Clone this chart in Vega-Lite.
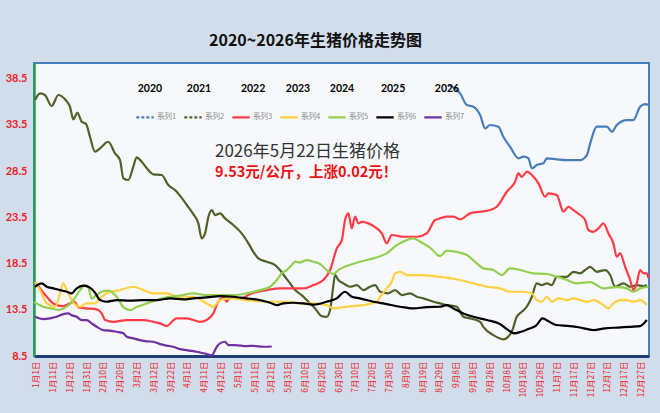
{
  "$schema": "https://vega.github.io/schema/vega-lite/v6.json",
  "width": 615,
  "height": 293,
  "autosize": "none",
  "padding": {"left": 34, "top": 63, "right": 11, "bottom": 57},
  "background": "#d1ddeb",
  "title": {
    "text": "2020~2026年生猪价格走势图",
    "font": "Noto Sans CJK SC",
    "fontSize": 16,
    "fontWeight": "bold",
    "color": "#111111",
    "anchor": "middle",
    "dx": -26,
    "offset": 14
  },
  "config": {
    "view": {"stroke": "#4a7ebb", "strokeWidth": 2, "fill": "#f6f8fc"}
  },
  "encoding": {
    "x": {
      "field": "d",
      "type": "quantitative",
      "title": null,
      "scale": {"domain": [0, 366], "nice": false, "zero": false},
      "axis": {
        "values": [1, 11, 21, 31, 41, 51, 61, 71, 81, 91, 101, 111, 121, 131, 141, 151, 161, 171, 181, 191, 201, 211, 221, 231, 241, 251, 261, 271, 281, 291, 301, 311, 321, 331, 341, 351, 361],
        "labelExpr": "timeFormat(datetime(2021, 0, datum.value), '%-m月%-d日')",
        "labelAngle": -90,
        "labelColor": "#ee1c25",
        "labelFont": "Noto Sans CJK SC",
        "labelFontSize": 8.5,
        "labelPadding": 5,
        "labelOverlap": false,
        "labelSeparation": -20,
        "labelBound": false,
        "labelFlush": false,
        "ticks": false,
        "grid": false,
        "domainColor": "#1f3d7a",
        "domainWidth": 3
      }
    },
    "y": {
      "field": "v",
      "type": "quantitative",
      "title": null,
      "scale": {"domain": [8.5, 40.2], "nice": false, "zero": false},
      "axis": {
        "values": [8.5, 13.5, 18.5, 23.5, 28.5, 33.5, 38.5],
        "format": ".1f",
        "labelColor": "#ee1c25",
        "labelFont": "Lato",
        "labelFontWeight": "bold",
        "labelFontSize": 11,
        "labelPadding": 7,
        "labelFlush": false,
        "ticks": false,
        "grid": false,
        "domainColor": "#22a050",
        "domainWidth": 2.5
      }
    }
  },
  "layer": [
    {
      "data": {
        "values": [
          {"s": "系列1", "d": 246.4, "v": 37.82}, {"s": "系列1", "d": 253.6, "v": 36.92}, {"s": "系列1", "d": 257.6, "v": 35.65},
          {"s": "系列1", "d": 261.5, "v": 35.47}, {"s": "系列1", "d": 265.5, "v": 34.57}, {"s": "系列1", "d": 268.5, "v": 33.13},
          {"s": "系列1", "d": 271.4, "v": 33.49}, {"s": "系列1", "d": 276.4, "v": 33.31}, {"s": "系列1", "d": 279.3, "v": 32.22},
          {"s": "系列1", "d": 283.3, "v": 31.14}, {"s": "系列1", "d": 288.3, "v": 29.89}, {"s": "系列1", "d": 291.3, "v": 30.06},
          {"s": "系列1", "d": 294.2, "v": 29.89}, {"s": "系列1", "d": 296.3, "v": 28.8}, {"s": "系列1", "d": 299.2, "v": 29.16},
          {"s": "系列1", "d": 303.2, "v": 29.35}, {"s": "系列1", "d": 305.2, "v": 29.89}, {"s": "系列1", "d": 311.1, "v": 29.78},
          {"s": "系列1", "d": 317.1, "v": 29.7}, {"s": "系列1", "d": 325.0, "v": 29.7}, {"s": "系列1", "d": 329.0, "v": 30.24},
          {"s": "系列1", "d": 331.0, "v": 31.51}, {"s": "系列1", "d": 334.9, "v": 33.31}, {"s": "系列1", "d": 340.9, "v": 33.31},
          {"s": "系列1", "d": 343.9, "v": 32.76}, {"s": "系列1", "d": 346.8, "v": 33.49}, {"s": "系列1", "d": 352.8, "v": 34.03},
          {"s": "系列1", "d": 356.7, "v": 34.03}, {"s": "系列1", "d": 360.7, "v": 35.47}, {"s": "系列1", "d": 363.7, "v": 35.76},
          {"s": "系列1", "d": 365.7, "v": 35.65},

          {"s": "系列2", "d": 0.6, "v": 36.2}, {"s": "系列2", "d": 3.6, "v": 36.92}, {"s": "系列2", "d": 6.5, "v": 36.74},
          {"s": "系列2", "d": 10.5, "v": 35.55}, {"s": "系列2", "d": 14.5, "v": 36.74}, {"s": "系列2", "d": 18.5, "v": 36.27},
          {"s": "系列2", "d": 21.4, "v": 35.47}, {"s": "系列2", "d": 23.4, "v": 34.11}, {"s": "系列2", "d": 25.8, "v": 34.82},
          {"s": "系列2", "d": 28.4, "v": 33.85}, {"s": "系列2", "d": 31.0, "v": 33.6}, {"s": "系列2", "d": 33.3, "v": 32.22},
          {"s": "系列2", "d": 36.3, "v": 30.6}, {"s": "系列2", "d": 39.3, "v": 30.97}, {"s": "系列2", "d": 44.2, "v": 31.68},
          {"s": "系列2", "d": 48.2, "v": 30.43}, {"s": "系列2", "d": 51.2, "v": 29.7}, {"s": "系列2", "d": 53.2, "v": 27.72},
          {"s": "系列2", "d": 56.1, "v": 27.54}, {"s": "系列2", "d": 59.1, "v": 28.98}, {"s": "系列2", "d": 61.1, "v": 30.0},
          {"s": "系列2", "d": 64.1, "v": 29.52}, {"s": "系列2", "d": 68.0, "v": 28.62}, {"s": "系列2", "d": 71.0, "v": 28.15},
          {"s": "系列2", "d": 76.0, "v": 28.08}, {"s": "系列2", "d": 79.9, "v": 27.0}, {"s": "系列2", "d": 83.9, "v": 26.46},
          {"s": "系列2", "d": 87.9, "v": 25.6}, {"s": "系列2", "d": 90.9, "v": 24.85}, {"s": "系列2", "d": 94.8, "v": 23.85},
          {"s": "系列2", "d": 97.8, "v": 22.85}, {"s": "系列2", "d": 99.8, "v": 21.23}, {"s": "系列2", "d": 101.8, "v": 21.77},
          {"s": "系列2", "d": 103.8, "v": 23.57}, {"s": "系列2", "d": 105.8, "v": 24.29}, {"s": "系列2", "d": 107.7, "v": 23.75},
          {"s": "系列2", "d": 110.7, "v": 23.93}, {"s": "系列2", "d": 113.7, "v": 23.39}, {"s": "系列2", "d": 118.6, "v": 22.67},
          {"s": "系列2", "d": 123.6, "v": 21.77}, {"s": "系列2", "d": 127.6, "v": 20.69}, {"s": "系列2", "d": 130.5, "v": 19.78},
          {"s": "系列2", "d": 133.5, "v": 19.06}, {"s": "系列2", "d": 138.5, "v": 18.7}, {"s": "系列2", "d": 143.5, "v": 18.34},
          {"s": "系列2", "d": 146.4, "v": 17.8}, {"s": "系列2", "d": 149.4, "v": 17.07}, {"s": "系列2", "d": 152.4, "v": 16.36},
          {"s": "系列2", "d": 155.4, "v": 15.63}, {"s": "系列2", "d": 159.3, "v": 15.09}, {"s": "系列2", "d": 163.3, "v": 14.37},
          {"s": "系列2", "d": 167.3, "v": 13.65}, {"s": "系列2", "d": 171.2, "v": 12.82}, {"s": "系列2", "d": 174.2, "v": 12.74},
          {"s": "系列2", "d": 176.2, "v": 13.47}, {"s": "系列2", "d": 177.8, "v": 15.63}, {"s": "系列2", "d": 179.2, "v": 17.26},
          {"s": "系列2", "d": 181.1, "v": 16.72}, {"s": "系列2", "d": 184.1, "v": 16.36}, {"s": "系列2", "d": 188.1, "v": 15.99},
          {"s": "系列2", "d": 192.1, "v": 16.17}, {"s": "系列2", "d": 196.0, "v": 15.63}, {"s": "系列2", "d": 200.0, "v": 15.99},
          {"s": "系列2", "d": 203.0, "v": 16.17}, {"s": "系列2", "d": 206.0, "v": 15.45}, {"s": "系列2", "d": 210.9, "v": 15.28},
          {"s": "系列2", "d": 214.9, "v": 15.63}, {"s": "系列2", "d": 218.9, "v": 15.09}, {"s": "系列2", "d": 223.8, "v": 15.28},
          {"s": "系列2", "d": 227.8, "v": 14.91}, {"s": "系列2", "d": 231.7, "v": 14.74}, {"s": "系列2", "d": 237.7, "v": 14.37},
          {"s": "系列2", "d": 241.7, "v": 14.19}, {"s": "系列2", "d": 245.7, "v": 14.01}, {"s": "系列2", "d": 251.6, "v": 13.83},
          {"s": "系列2", "d": 255.5, "v": 12.74}, {"s": "系列2", "d": 259.5, "v": 12.57}, {"s": "系列2", "d": 265.5, "v": 12.2},
          {"s": "系列2", "d": 267.4, "v": 11.66}, {"s": "系列2", "d": 273.4, "v": 10.76}, {"s": "系列2", "d": 279.3, "v": 10.3},
          {"s": "系列2", "d": 284.3, "v": 11.12}, {"s": "系列2", "d": 287.3, "v": 12.74}, {"s": "系列2", "d": 290.3, "v": 13.28},
          {"s": "系列2", "d": 293.3, "v": 13.83}, {"s": "系列2", "d": 296.3, "v": 14.91}, {"s": "系列2", "d": 299.2, "v": 16.36},
          {"s": "系列2", "d": 302.2, "v": 16.17}, {"s": "系列2", "d": 305.2, "v": 16.36}, {"s": "系列2", "d": 308.2, "v": 16.17},
          {"s": "系列2", "d": 311.1, "v": 17.07}, {"s": "系列2", "d": 317.1, "v": 17.07}, {"s": "系列2", "d": 321.0, "v": 17.61},
          {"s": "系列2", "d": 325.0, "v": 17.44}, {"s": "系列2", "d": 328.0, "v": 17.8}, {"s": "系列2", "d": 331.0, "v": 18.15},
          {"s": "系列2", "d": 334.9, "v": 17.61}, {"s": "系列2", "d": 339.9, "v": 17.8}, {"s": "系列2", "d": 342.9, "v": 17.26},
          {"s": "系列2", "d": 345.8, "v": 15.99}, {"s": "系列2", "d": 350.8, "v": 16.36}, {"s": "系列2", "d": 354.8, "v": 15.99},
          {"s": "系列2", "d": 358.7, "v": 16.17}, {"s": "系列2", "d": 362.7, "v": 16.07}, {"s": "系列2", "d": 364.7, "v": 16.17},

          {"s": "系列3", "d": 0.6, "v": 16.53}, {"s": "系列3", "d": 3.6, "v": 15.82}, {"s": "系列3", "d": 7.6, "v": 14.91},
          {"s": "系列3", "d": 11.5, "v": 14.19}, {"s": "系列3", "d": 17.4, "v": 13.9}, {"s": "系列3", "d": 21.4, "v": 14.19},
          {"s": "系列3", "d": 24.4, "v": 14.37}, {"s": "系列3", "d": 26.4, "v": 13.76}, {"s": "系列3", "d": 31.4, "v": 13.65},
          {"s": "系列3", "d": 37.3, "v": 13.54}, {"s": "系列3", "d": 40.3, "v": 13.11}, {"s": "系列3", "d": 42.3, "v": 12.39},
          {"s": "系列3", "d": 47.2, "v": 12.2}, {"s": "系列3", "d": 55.2, "v": 12.39}, {"s": "系列3", "d": 65.1, "v": 12.39},
          {"s": "系列3", "d": 71.0, "v": 12.2}, {"s": "系列3", "d": 75.0, "v": 12.03}, {"s": "系列3", "d": 79.0, "v": 11.74},
          {"s": "系列3", "d": 82.0, "v": 12.2}, {"s": "系列3", "d": 84.9, "v": 12.57}, {"s": "系列3", "d": 90.9, "v": 12.57},
          {"s": "系列3", "d": 98.8, "v": 12.2}, {"s": "系列3", "d": 102.8, "v": 12.39}, {"s": "系列3", "d": 106.7, "v": 13.11},
          {"s": "系列3", "d": 109.7, "v": 14.37}, {"s": "系列3", "d": 112.7, "v": 14.91}, {"s": "系列3", "d": 114.7, "v": 14.37},
          {"s": "系列3", "d": 116.7, "v": 14.91}, {"s": "系列3", "d": 122.6, "v": 14.73}, {"s": "系列3", "d": 129.6, "v": 15.28},
          {"s": "系列3", "d": 138.5, "v": 15.63}, {"s": "系列3", "d": 146.4, "v": 15.82}, {"s": "系列3", "d": 154.3, "v": 15.82},
          {"s": "系列3", "d": 160.3, "v": 15.82}, {"s": "系列3", "d": 166.3, "v": 16.17}, {"s": "系列3", "d": 172.2, "v": 16.72},
          {"s": "系列3", "d": 176.2, "v": 17.8}, {"s": "系列3", "d": 180.2, "v": 20.15}, {"s": "系列3", "d": 183.2, "v": 21.04},
          {"s": "系列3", "d": 185.1, "v": 23.21}, {"s": "系列3", "d": 187.1, "v": 23.93}, {"s": "系列3", "d": 189.1, "v": 22.31},
          {"s": "系列3", "d": 191.1, "v": 23.57}, {"s": "系列3", "d": 193.0, "v": 22.85}, {"s": "系列3", "d": 195.1, "v": 23.02},
          {"s": "系列3", "d": 199.0, "v": 22.85}, {"s": "系列3", "d": 204.0, "v": 22.31}, {"s": "系列3", "d": 207.0, "v": 21.77},
          {"s": "系列3", "d": 209.9, "v": 20.69}, {"s": "系列3", "d": 212.9, "v": 21.59}, {"s": "系列3", "d": 219.8, "v": 21.4},
          {"s": "系列3", "d": 227.8, "v": 21.4}, {"s": "系列3", "d": 233.7, "v": 21.77}, {"s": "系列3", "d": 238.7, "v": 23.21},
          {"s": "系列3", "d": 241.7, "v": 23.39}, {"s": "系列3", "d": 245.7, "v": 23.57}, {"s": "系列3", "d": 249.6, "v": 23.57},
          {"s": "系列3", "d": 253.6, "v": 23.28}, {"s": "系列3", "d": 259.5, "v": 23.93}, {"s": "系列3", "d": 265.5, "v": 24.11},
          {"s": "系列3", "d": 271.4, "v": 24.29}, {"s": "系列3", "d": 275.4, "v": 24.65}, {"s": "系列3", "d": 281.4, "v": 26.27},
          {"s": "系列3", "d": 286.3, "v": 27.35}, {"s": "系列3", "d": 288.3, "v": 28.26}, {"s": "系列3", "d": 290.3, "v": 27.89},
          {"s": "系列3", "d": 293.3, "v": 28.44}, {"s": "系列3", "d": 296.3, "v": 28.08}, {"s": "系列3", "d": 300.2, "v": 27.18},
          {"s": "系列3", "d": 304.2, "v": 25.73}, {"s": "系列3", "d": 306.1, "v": 26.1}, {"s": "系列3", "d": 311.1, "v": 25.91},
          {"s": "系列3", "d": 315.1, "v": 24.11}, {"s": "系列3", "d": 318.0, "v": 24.65}, {"s": "系列3", "d": 321.0, "v": 24.29},
          {"s": "系列3", "d": 325.0, "v": 23.75}, {"s": "系列3", "d": 328.0, "v": 23.21}, {"s": "系列3", "d": 329.9, "v": 22.13},
          {"s": "系列3", "d": 332.9, "v": 21.94}, {"s": "系列3", "d": 335.9, "v": 22.31}, {"s": "系列3", "d": 338.9, "v": 22.85},
          {"s": "系列3", "d": 341.8, "v": 21.77}, {"s": "系列3", "d": 344.8, "v": 20.69}, {"s": "系列3", "d": 346.8, "v": 19.24},
          {"s": "系列3", "d": 348.8, "v": 19.6}, {"s": "系列3", "d": 351.8, "v": 18.15}, {"s": "系列3", "d": 354.8, "v": 16.72},
          {"s": "系列3", "d": 356.7, "v": 15.63}, {"s": "系列3", "d": 358.7, "v": 16.36}, {"s": "系列3", "d": 360.7, "v": 17.8},
          {"s": "系列3", "d": 362.7, "v": 17.44}, {"s": "系列3", "d": 364.7, "v": 17.44}, {"s": "系列3", "d": 365.7, "v": 16.9},

          {"s": "系列4", "d": 0.6, "v": 16.53}, {"s": "系列4", "d": 3.6, "v": 15.63}, {"s": "系列4", "d": 7.6, "v": 14.19},
          {"s": "系列4", "d": 12.5, "v": 13.83}, {"s": "系列4", "d": 15.5, "v": 15.28}, {"s": "系列4", "d": 17.4, "v": 16.36},
          {"s": "系列4", "d": 19.5, "v": 15.63}, {"s": "系列4", "d": 22.4, "v": 14.55}, {"s": "系列4", "d": 27.4, "v": 13.83},
          {"s": "系列4", "d": 31.4, "v": 14.19}, {"s": "系列4", "d": 36.3, "v": 14.19}, {"s": "系列4", "d": 39.3, "v": 14.73},
          {"s": "系列4", "d": 43.3, "v": 15.28}, {"s": "系列4", "d": 51.2, "v": 15.63}, {"s": "系列4", "d": 59.1, "v": 15.99},
          {"s": "系列4", "d": 65.1, "v": 15.63}, {"s": "系列4", "d": 71.0, "v": 15.28}, {"s": "系列4", "d": 79.0, "v": 15.28},
          {"s": "系列4", "d": 86.9, "v": 14.8}, {"s": "系列4", "d": 94.8, "v": 14.91}, {"s": "系列4", "d": 102.8, "v": 14.19},
          {"s": "系列4", "d": 106.7, "v": 13.83}, {"s": "系列4", "d": 110.7, "v": 14.55}, {"s": "系列4", "d": 116.7, "v": 14.73},
          {"s": "系列4", "d": 126.6, "v": 14.55}, {"s": "系列4", "d": 136.5, "v": 14.37}, {"s": "系列4", "d": 150.4, "v": 14.37},
          {"s": "系列4", "d": 158.3, "v": 14.19}, {"s": "系列4", "d": 166.3, "v": 14.19}, {"s": "系列4", "d": 174.2, "v": 14.01},
          {"s": "系列4", "d": 178.2, "v": 13.65}, {"s": "系列4", "d": 186.1, "v": 13.83}, {"s": "系列4", "d": 196.0, "v": 14.01},
          {"s": "系列4", "d": 204.0, "v": 14.37}, {"s": "系列4", "d": 206.0, "v": 14.91}, {"s": "系列4", "d": 209.9, "v": 15.82},
          {"s": "系列4", "d": 212.9, "v": 16.53}, {"s": "系列4", "d": 214.9, "v": 17.44}, {"s": "系列4", "d": 217.9, "v": 17.61},
          {"s": "系列4", "d": 221.8, "v": 17.26}, {"s": "系列4", "d": 229.8, "v": 17.26}, {"s": "系列4", "d": 241.7, "v": 17.07},
          {"s": "系列4", "d": 253.6, "v": 16.72}, {"s": "系列4", "d": 261.5, "v": 16.36}, {"s": "系列4", "d": 269.5, "v": 15.99},
          {"s": "系列4", "d": 277.4, "v": 15.82}, {"s": "系列4", "d": 283.3, "v": 15.45}, {"s": "系列4", "d": 291.3, "v": 15.45},
          {"s": "系列4", "d": 296.3, "v": 15.28}, {"s": "系列4", "d": 299.2, "v": 14.55}, {"s": "系列4", "d": 302.2, "v": 14.37},
          {"s": "系列4", "d": 305.2, "v": 14.91}, {"s": "系列4", "d": 308.2, "v": 14.37}, {"s": "系列4", "d": 312.1, "v": 14.73},
          {"s": "系列4", "d": 317.1, "v": 14.55}, {"s": "系列4", "d": 321.0, "v": 14.73}, {"s": "系列4", "d": 325.0, "v": 14.55},
          {"s": "系列4", "d": 329.0, "v": 14.37}, {"s": "系列4", "d": 332.9, "v": 14.55}, {"s": "系列4", "d": 338.9, "v": 14.01},
          {"s": "系列4", "d": 341.8, "v": 13.65}, {"s": "系列4", "d": 344.8, "v": 14.19}, {"s": "系列4", "d": 348.8, "v": 14.55},
          {"s": "系列4", "d": 352.8, "v": 14.55}, {"s": "系列4", "d": 356.7, "v": 14.37}, {"s": "系列4", "d": 360.7, "v": 14.55},
          {"s": "系列4", "d": 364.7, "v": 14.01},

          {"s": "系列5", "d": 0, "v": 14.33}, {"s": "系列5", "d": 5.5, "v": 13.83}, {"s": "系列5", "d": 11.5, "v": 13.6},
          {"s": "系列5", "d": 14.5, "v": 13.5}, {"s": "系列5", "d": 19.5, "v": 13.83}, {"s": "系列5", "d": 23.4, "v": 14.55},
          {"s": "系列5", "d": 27.4, "v": 15.63}, {"s": "系列5", "d": 30.4, "v": 16.17}, {"s": "系列5", "d": 32.3, "v": 15.95},
          {"s": "系列5", "d": 34.3, "v": 14.73}, {"s": "系列5", "d": 37.3, "v": 15.09}, {"s": "系列5", "d": 41.3, "v": 15.52},
          {"s": "系列5", "d": 44.2, "v": 15.57}, {"s": "系列5", "d": 49.2, "v": 14.91}, {"s": "系列5", "d": 53.2, "v": 13.79},
          {"s": "系列5", "d": 57.1, "v": 13.47}, {"s": "系列5", "d": 61.1, "v": 13.79}, {"s": "系列5", "d": 67.1, "v": 14.19},
          {"s": "系列5", "d": 73.0, "v": 14.55}, {"s": "系列5", "d": 79.0, "v": 14.84}, {"s": "系列5", "d": 86.9, "v": 15.03},
          {"s": "系列5", "d": 94.8, "v": 15.28}, {"s": "系列5", "d": 102.8, "v": 15.09}, {"s": "系列5", "d": 110.7, "v": 15.09},
          {"s": "系列5", "d": 118.6, "v": 15.09}, {"s": "系列5", "d": 126.6, "v": 15.28}, {"s": "系列5", "d": 134.5, "v": 15.63},
          {"s": "系列5", "d": 140.5, "v": 15.99}, {"s": "系列5", "d": 144.5, "v": 16.72}, {"s": "系列5", "d": 147.4, "v": 17.44},
          {"s": "系列5", "d": 150.4, "v": 17.8}, {"s": "系列5", "d": 153.4, "v": 18.34}, {"s": "系列5", "d": 155.4, "v": 18.7},
          {"s": "系列5", "d": 158.3, "v": 18.61}, {"s": "系列5", "d": 162.3, "v": 18.88}, {"s": "系列5", "d": 166.3, "v": 18.7},
          {"s": "系列5", "d": 170.2, "v": 18.45}, {"s": "系列5", "d": 174.2, "v": 17.8}, {"s": "系列5", "d": 178.2, "v": 17.37},
          {"s": "系列5", "d": 181.1, "v": 17.8}, {"s": "系列5", "d": 186.1, "v": 18.23}, {"s": "系列5", "d": 194.0, "v": 18.7},
          {"s": "系列5", "d": 202.0, "v": 19.06}, {"s": "系列5", "d": 209.9, "v": 19.6}, {"s": "系列5", "d": 215.9, "v": 20.5},
          {"s": "系列5", "d": 221.8, "v": 21.04}, {"s": "系列5", "d": 225.8, "v": 21.23}, {"s": "系列5", "d": 229.8, "v": 20.86},
          {"s": "系列5", "d": 235.7, "v": 20.23}, {"s": "系列5", "d": 241.7, "v": 19.31}, {"s": "系列5", "d": 245.7, "v": 19.91},
          {"s": "系列5", "d": 251.6, "v": 19.75}, {"s": "系列5", "d": 257.6, "v": 19.42}, {"s": "系列5", "d": 263.5, "v": 18.52},
          {"s": "系列5", "d": 267.4, "v": 17.98}, {"s": "系列5", "d": 273.4, "v": 17.8}, {"s": "系列5", "d": 278.4, "v": 17.26},
          {"s": "系列5", "d": 283.3, "v": 17.98}, {"s": "系列5", "d": 289.3, "v": 17.8}, {"s": "系列5", "d": 297.2, "v": 17.44},
          {"s": "系列5", "d": 305.2, "v": 17.37}, {"s": "系列5", "d": 311.1, "v": 17.07}, {"s": "系列5", "d": 317.1, "v": 16.72},
          {"s": "系列5", "d": 323.0, "v": 16.36}, {"s": "系列5", "d": 331.0, "v": 16.5}, {"s": "系列5", "d": 338.9, "v": 15.82},
          {"s": "系列5", "d": 346.8, "v": 15.96}, {"s": "系列5", "d": 352.8, "v": 15.82}, {"s": "系列5", "d": 356.7, "v": 15.45},
          {"s": "系列5", "d": 360.7, "v": 15.82}, {"s": "系列5", "d": 365.7, "v": 15.99},

          {"s": "系列6", "d": 0.6, "v": 15.99}, {"s": "系列6", "d": 4.6, "v": 16.36}, {"s": "系列6", "d": 7.6, "v": 15.99},
          {"s": "系列6", "d": 11.5, "v": 15.82}, {"s": "系列6", "d": 15.5, "v": 15.63}, {"s": "系列6", "d": 19.5, "v": 15.45},
          {"s": "系列6", "d": 22.4, "v": 15.28}, {"s": "系列6", "d": 25.4, "v": 15.82}, {"s": "系列6", "d": 29.3, "v": 16.12},
          {"s": "系列6", "d": 33.3, "v": 15.9}, {"s": "系列6", "d": 36.3, "v": 15.36}, {"s": "系列6", "d": 39.3, "v": 14.55},
          {"s": "系列6", "d": 43.3, "v": 14.37}, {"s": "系列6", "d": 49.2, "v": 14.55}, {"s": "系列6", "d": 57.1, "v": 14.5},
          {"s": "系列6", "d": 65.1, "v": 14.55}, {"s": "系列6", "d": 73.0, "v": 14.55}, {"s": "系列6", "d": 81.0, "v": 14.73},
          {"s": "系列6", "d": 88.9, "v": 14.63}, {"s": "系列6", "d": 94.8, "v": 14.73}, {"s": "系列6", "d": 102.8, "v": 14.84},
          {"s": "系列6", "d": 110.7, "v": 14.98}, {"s": "系列6", "d": 118.6, "v": 14.91}, {"s": "系列6", "d": 126.6, "v": 14.73},
          {"s": "系列6", "d": 134.5, "v": 14.55}, {"s": "系列6", "d": 140.5, "v": 14.26}, {"s": "系列6", "d": 144.5, "v": 14.01},
          {"s": "系列6", "d": 148.4, "v": 14.19}, {"s": "系列6", "d": 154.3, "v": 14.26}, {"s": "系列6", "d": 160.3, "v": 14.19},
          {"s": "系列6", "d": 166.3, "v": 14.06}, {"s": "系列6", "d": 174.2, "v": 14.37}, {"s": "系列6", "d": 180.2, "v": 14.73},
          {"s": "系列6", "d": 185.1, "v": 15.45}, {"s": "系列6", "d": 189.1, "v": 14.91}, {"s": "系列6", "d": 194.0, "v": 14.73},
          {"s": "系列6", "d": 202.0, "v": 14.37}, {"s": "系列6", "d": 209.9, "v": 14.12}, {"s": "系列6", "d": 217.9, "v": 13.83},
          {"s": "系列6", "d": 225.8, "v": 13.65}, {"s": "系列6", "d": 233.7, "v": 13.79}, {"s": "系列6", "d": 241.7, "v": 13.83},
          {"s": "系列6", "d": 245.7, "v": 14.01}, {"s": "系列6", "d": 249.6, "v": 13.65}, {"s": "系列6", "d": 255.5, "v": 13.11},
          {"s": "系列6", "d": 261.5, "v": 12.74}, {"s": "系列6", "d": 269.5, "v": 12.39}, {"s": "系列6", "d": 277.4, "v": 11.95},
          {"s": "系列6", "d": 282.3, "v": 11.3}, {"s": "系列6", "d": 285.7, "v": 10.95}, {"s": "系列6", "d": 289.3, "v": 11.09},
          {"s": "系列6", "d": 294.0, "v": 11.41}, {"s": "系列6", "d": 298.8, "v": 11.79}, {"s": "系列6", "d": 302.7, "v": 12.57},
          {"s": "系列6", "d": 306.0, "v": 12.28}, {"s": "系列6", "d": 310.7, "v": 11.85}, {"s": "系列6", "d": 319.0, "v": 11.74},
          {"s": "系列6", "d": 325.0, "v": 11.58}, {"s": "系列6", "d": 332.9, "v": 11.3}, {"s": "系列6", "d": 339.9, "v": 11.49},
          {"s": "系列6", "d": 347.6, "v": 11.58}, {"s": "系列6", "d": 354.8, "v": 11.66}, {"s": "系列6", "d": 360.7, "v": 11.74},
          {"s": "系列6", "d": 364.7, "v": 12.39},

          {"s": "系列7", "d": 0.6, "v": 12.74}, {"s": "系列7", "d": 5.5, "v": 12.49}, {"s": "系列7", "d": 9.5, "v": 12.57},
          {"s": "系列7", "d": 13.5, "v": 12.74}, {"s": "系列7", "d": 17.4, "v": 13.03}, {"s": "系列7", "d": 20.4, "v": 13.11},
          {"s": "系列7", "d": 22.4, "v": 12.92}, {"s": "系列7", "d": 25.4, "v": 12.74}, {"s": "系列7", "d": 28.4, "v": 12.39},
          {"s": "系列7", "d": 31.4, "v": 12.39}, {"s": "系列7", "d": 34.3, "v": 12.03}, {"s": "系列7", "d": 37.3, "v": 11.66},
          {"s": "系列7", "d": 41.3, "v": 11.3}, {"s": "系列7", "d": 45.2, "v": 11.25}, {"s": "系列7", "d": 49.2, "v": 11.12},
          {"s": "系列7", "d": 53.2, "v": 10.95}, {"s": "系列7", "d": 55.2, "v": 10.58}, {"s": "系列7", "d": 59.1, "v": 10.41},
          {"s": "系列7", "d": 63.1, "v": 10.22}, {"s": "系列7", "d": 67.1, "v": 10.09}, {"s": "系列7", "d": 71.0, "v": 10.04},
          {"s": "系列7", "d": 75.0, "v": 9.79}, {"s": "系列7", "d": 79.0, "v": 9.63}, {"s": "系列7", "d": 82.9, "v": 9.5},
          {"s": "系列7", "d": 86.9, "v": 9.25}, {"s": "系列7", "d": 92.4, "v": 9.09}, {"s": "系列7", "d": 96.8, "v": 8.96},
          {"s": "系列7", "d": 102.8, "v": 8.71}, {"s": "系列7", "d": 105.8, "v": 8.6}, {"s": "系列7", "d": 108.8, "v": 9.5},
          {"s": "系列7", "d": 110.7, "v": 9.87}, {"s": "系列7", "d": 113.7, "v": 10.04}, {"s": "系列7", "d": 115.7, "v": 9.68},
          {"s": "系列7", "d": 119.6, "v": 9.68}, {"s": "系列7", "d": 126.6, "v": 9.57}, {"s": "系列7", "d": 130.5, "v": 9.6},
          {"s": "系列7", "d": 136.5, "v": 9.5}, {"s": "系列7", "d": 141.5, "v": 9.53}
        ]
      },
      "mark": {"type": "line", "interpolate": "monotone", "strokeJoin": "round"},
      "encoding": {
        "color": {
          "field": "s",
          "type": "nominal",
          "scale": {
            "domain": ["系列1", "系列2", "系列3", "系列4", "系列5", "系列6", "系列7"],
            "range": ["#4a7ebb", "#4f6228", "#ff3b45", "#ffd040", "#92d050", "#000000", "#7030a0"]
          },
          "legend": {
            "orient": "none",
            "legendX": 101,
            "legendY": 44,
            "direction": "horizontal",
            "title": null,
            "symbolType": "stroke",
            "symbolSize": 300,
            "symbolStrokeWidth": 2,
            "labelFont": "Noto Sans CJK SC",
            "labelFontSize": 7.5,
            "labelColor": "#888888",
            "labelOffset": 2,
            "columnPadding": 2,
            "encode": {
              "symbols": {
                "update": {
                  "strokeDash": {"signal": "datum.value === '系列1' || datum.value === '系列2' ? [3, 2] : [1, 0]"}
                }
              }
            }
          }
        },
        "strokeWidth": {
          "field": "s",
          "type": "nominal",
          "scale": {
            "domain": ["系列1", "系列2", "系列3", "系列4", "系列5", "系列6", "系列7"],
            "range": [2.2, 2.2, 1.2, 1.3, 2.8, 2.8, 1.6]
          },
          "legend": null
        }
      }
    },
    {
      "data": {
        "values": [
          {"d": 69, "v": 37.4, "t": "2020"},
          {"d": 98.2, "v": 37.4, "t": "2021"},
          {"d": 130.4, "v": 37.4, "t": "2022"},
          {"d": 157.1, "v": 37.4, "t": "2023"},
          {"d": 183.3, "v": 37.4, "t": "2024"},
          {"d": 213.7, "v": 37.4, "t": "2025"},
          {"d": 245.8, "v": 37.4, "t": "2026"}
        ]
      },
      "mark": {"type": "text", "font": "Lato", "fontWeight": "bold", "fontSize": 10.5, "color": "#000000", "align": "center", "baseline": "middle"},
      "encoding": {"text": {"field": "t", "type": "nominal"}}
    },
    {
      "data": {"values": [{"d": 107.7, "v": 30.57, "t": "2026年5月22日生猪价格"}]},
      "mark": {"type": "text", "font": "Noto Sans CJK SC", "fontSize": 17, "color": "#333333", "align": "left", "baseline": "middle"},
      "encoding": {"text": {"field": "t", "type": "nominal"}}
    },
    {
      "data": {"values": [{"d": 107.7, "v": 28.3, "t": "9.53元/公斤，上涨0.02元！"}]},
      "mark": {"type": "text", "font": "Noto Sans CJK SC", "fontSize": 14.5, "fontWeight": "bold", "color": "#ee1111", "align": "left", "baseline": "middle"},
      "encoding": {"text": {"field": "t", "type": "nominal"}}
    }
  ]
}
